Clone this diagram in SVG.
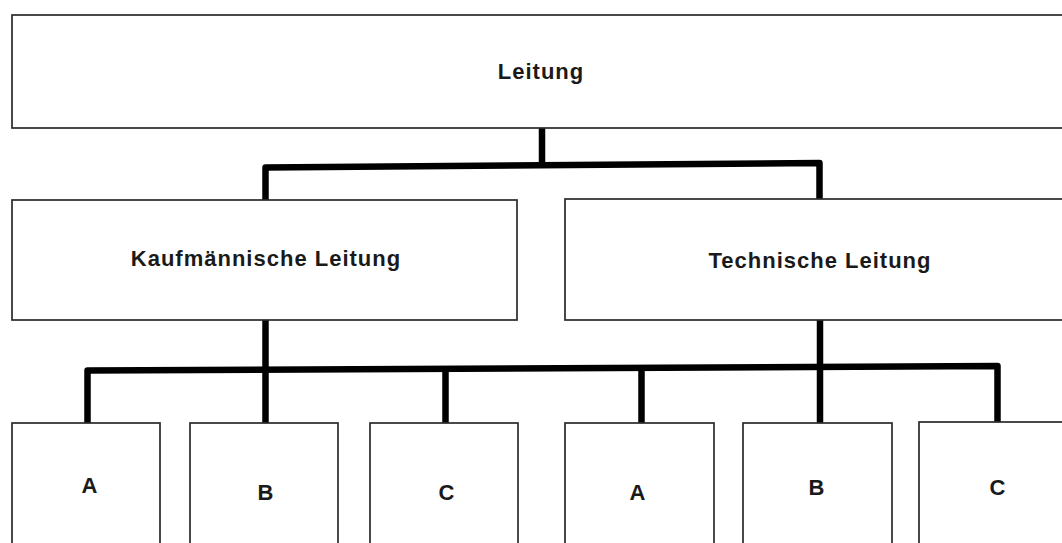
<svg xmlns="http://www.w3.org/2000/svg" width="1062" height="543" viewBox="0 0 1062 543">
  <style>
    .box { fill: #ffffff; stroke: #2a2a2a; stroke-width: 1.7; }
    .lbl { font-family: "Liberation Sans", Arial, sans-serif; font-weight: bold; font-size: 22px; letter-spacing: 1px; fill: #1a1a1a; text-anchor: middle; }
    .wire { fill: none; stroke: #000000; stroke-width: 6.5; stroke-linejoin: round; stroke-linecap: butt; }
  </style>
  <rect x="0" y="0" width="1062" height="543" fill="#ffffff"/>

  <!-- connectors -->
  <g id="connectors">
    <path class="wire" d="M542,128 V165.5"/>
    <path class="wire" d="M265.5,200 V167.5 L819.5,163 V199"/>
    <path class="wire" d="M265.5,320 V423"/>
    <path class="wire" d="M820,320 V423"/>
    <path class="wire" d="M87.5,423 V370.5 L997.5,366 V422"/>
    <path class="wire" d="M445.5,369 V423"/>
    <path class="wire" d="M641.5,367.5 V423"/>
  </g>

  <!-- top level -->
  <g id="leitung">
    <rect class="box" x="12" y="15" width="1060" height="113"/>
    <text class="lbl" x="541" y="79">Leitung</text>
  </g>

  <!-- second level -->
  <g id="kaufmaennische-leitung">
    <rect class="box" x="12" y="200" width="505" height="120"/>
    <text class="lbl" x="266" y="266">Kaufmännische Leitung</text>
  </g>
  <g id="technische-leitung">
    <rect class="box" x="565" y="199" width="510" height="121"/>
    <text class="lbl" x="820" y="268">Technische Leitung</text>
  </g>

  <!-- third level -->
  <g id="k-a">
    <rect class="box" x="12" y="423" width="148" height="130"/>
    <text class="lbl" x="90" y="493">A</text>
  </g>
  <g id="k-b">
    <rect class="box" x="190" y="423" width="148" height="130"/>
    <text class="lbl" x="266" y="500">B</text>
  </g>
  <g id="k-c">
    <rect class="box" x="370" y="423" width="148" height="130"/>
    <text class="lbl" x="447" y="500">C</text>
  </g>
  <g id="t-a">
    <rect class="box" x="565" y="423" width="149" height="130"/>
    <text class="lbl" x="638" y="500">A</text>
  </g>
  <g id="t-b">
    <rect class="box" x="743" y="423" width="149" height="130"/>
    <text class="lbl" x="817" y="495">B</text>
  </g>
  <g id="t-c">
    <rect class="box" x="919" y="422" width="160" height="131"/>
    <text class="lbl" x="998" y="495">C</text>
  </g>
</svg>
